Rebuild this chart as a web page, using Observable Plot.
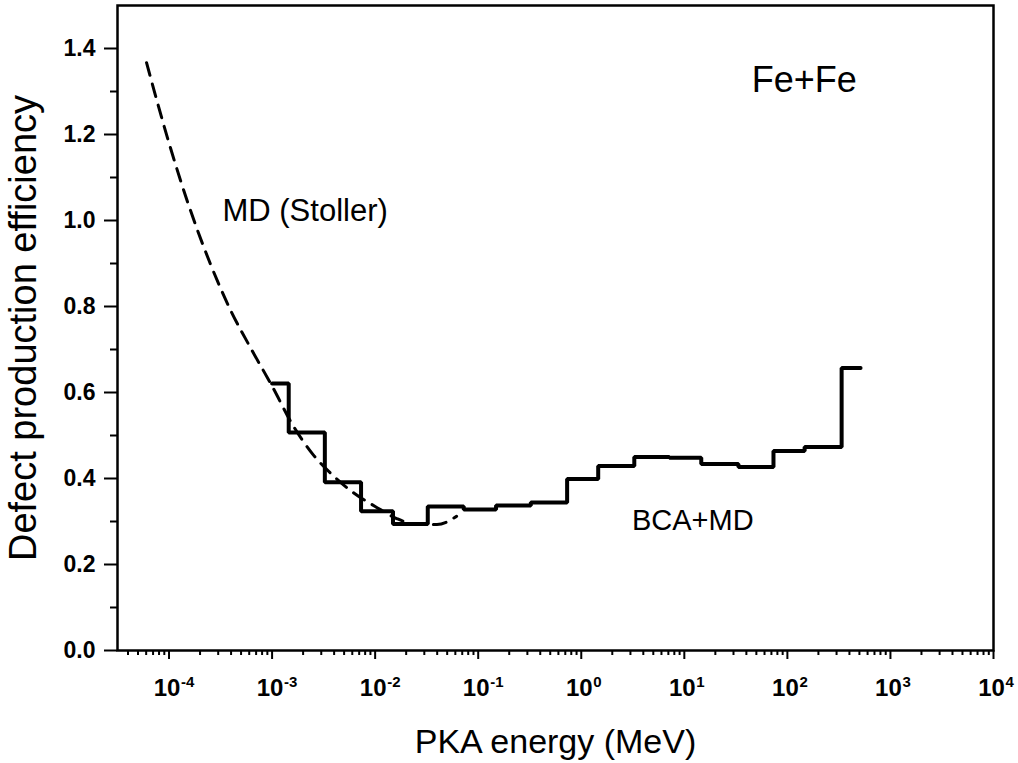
<!DOCTYPE html>
<html>
<head>
<meta charset="utf-8">
<script src="https://cdn.jsdelivr.net/npm/d3@7"></script>
<script src="https://cdn.jsdelivr.net/npm/@observablehq/plot@0.6"></script>
<style>
  html, body { margin: 0; padding: 0; background: #fff; }
  #chart { width: 1018px; height: 763px; }
  #chart svg, #chart svg text { font-family: "Liberation Sans", Arial, Helvetica, sans-serif !important; }
</style>
</head>
<body>
<div id="chart"></div>
<script>
// BCA+MD histogram: bin lower edges (MeV) and efficiency (last point closes final bin)
const stepEnergy = [1.0e-3, 1.45e-3, 3.25e-3, 7.3e-3, 0.0149, 0.0324, 0.0724, 0.149, 0.324, 0.729, 1.46, 3.27, 7.16, 14.6, 33.5, 73.3, 147, 336, 513];
const stepEfficiency = [0.621, 0.507, 0.391, 0.324, 0.294, 0.335, 0.328, 0.337, 0.344, 0.399, 0.429, 0.45, 0.448, 0.434, 0.427, 0.464, 0.473, 0.657, 0.657];

// MD (Stoller) dashed curve
const mdEnergy = [6.05e-5, 1.0e-4, 1.58e-4, 2.51e-4, 3.98e-4, 6.31e-4, 1.0e-3, 1.58e-3, 2.51e-3, 3.98e-3, 6.31e-3, 0.01, 0.0158, 0.0251, 0.0398, 0.0617];
const mdEfficiency = [1.367, 1.18, 1.03, 0.90, 0.79, 0.70, 0.615, 0.525, 0.455, 0.405, 0.365, 0.335, 0.308, 0.293, 0.293, 0.312];

// Axis ticks
const yMajor = [0, 0.2, 0.4, 0.6, 0.8, 1.0, 1.2, 1.4];
const yMinor = [0.1, 0.3, 0.5, 0.7, 0.9, 1.1, 1.3];
const xExponents = [-4, -3, -2, -1, 0, 1, 2, 3, 4];
const xMajor = xExponents.map(e => Math.pow(10, e));
const xMinorDecades = [-5, -4, -3, -2, -1, 0, 1, 2, 3];
const xMinorMultipliers = [2, 3, 4, 5, 6, 7, 8, 9];

// Labels
const xTitle = "PKA energy (MeV)";
const yTitle = "Defect production efficiency";
const annotations = [
  {text: "Fe+Fe", x: 45, y: 1.3, size: 36},
  {text: "MD (Stoller)", x: 3.3e-4, y: 1.0, size: 31},
  {text: "BCA+MD", x: 3.1, y: 0.28, size: 29}
];

const xDomain = [Math.pow(10, -4.5), 1e4];
const xMinor = [];
for (const d of xMinorDecades) for (const m of xMinorMultipliers) {
  const v = m * Math.pow(10, d);
  if (v > xDomain[0] && v < xDomain[1]) xMinor.push(v);
}

const plot = Plot.plot({
  width: 1018,
  height: 763,
  marginLeft: 117,
  marginRight: 25,
  marginTop: 5,
  marginBottom: 113,
  style: {background: "#fff", color: "#000", overflow: "visible"},
  x: {type: "log", domain: xDomain, axis: null},
  y: {domain: [0, 1.5], axis: null},
  marks: [
    Plot.axisX({ticks: xMinor, tickSize: 5, tickFormat: () => "", strokeWidth: 2, anchor: "bottom", label: null}),
    Plot.axisX({ticks: xMajor, tickSize: 9, tickFormat: () => "", strokeWidth: 2, anchor: "bottom", label: null}),
    Plot.axisY({ticks: yMinor, tickSize: 7, tickFormat: () => "", strokeWidth: 2, anchor: "left", label: null}),
    Plot.axisY({ticks: yMajor, tickSize: 13, tickPadding: 9, tickFormat: d3.format(".1f"), strokeWidth: 2,
      anchor: "left", label: null, fontSize: 23, fontWeight: "bold"}),
    Plot.text(xMajor, {x: d => d, frameAnchor: "bottom", dy: 38, dx: -2, text: () => "10",
      fontSize: 24, fontWeight: "bold", textAnchor: "middle", lineAnchor: "middle"}),
    Plot.text(xExponents, {x: e => Math.pow(10, e), frameAnchor: "bottom", dy: 32, dx: 12, text: e => String(e),
      fontSize: 15, fontWeight: "bold", textAnchor: "start", lineAnchor: "middle"}),
    Plot.text([xTitle], {frameAnchor: "bottom", dy: 102, text: d => d, fontSize: 34, lineAnchor: "bottom", textAnchor: "middle"}),
    Plot.text([yTitle], {frameAnchor: "left", dx: -94, text: d => d, fontSize: 38, rotate: -90, lineAnchor: "middle", textAnchor: "middle"}),
    Plot.line(mdEnergy, {x: mdEnergy, y: mdEfficiency, curve: "monotone-x", stroke: "#000", strokeWidth: 3,
      strokeDasharray: "13,9"}),
    Plot.line(stepEnergy, {x: stepEnergy, y: stepEfficiency, curve: "step-after", stroke: "#000", strokeWidth: 4,
      strokeLinejoin: "miter", strokeLinecap: "round"}),
    Plot.text(annotations, {x: "x", y: "y", text: "text", fontSize: d => d.size, textAnchor: "start", lineAnchor: "bottom"}),
    Plot.frame({stroke: "#000", strokeWidth: 2.5})
  ]
});
document.getElementById("chart").appendChild(plot);
</script>
</body>
</html>
